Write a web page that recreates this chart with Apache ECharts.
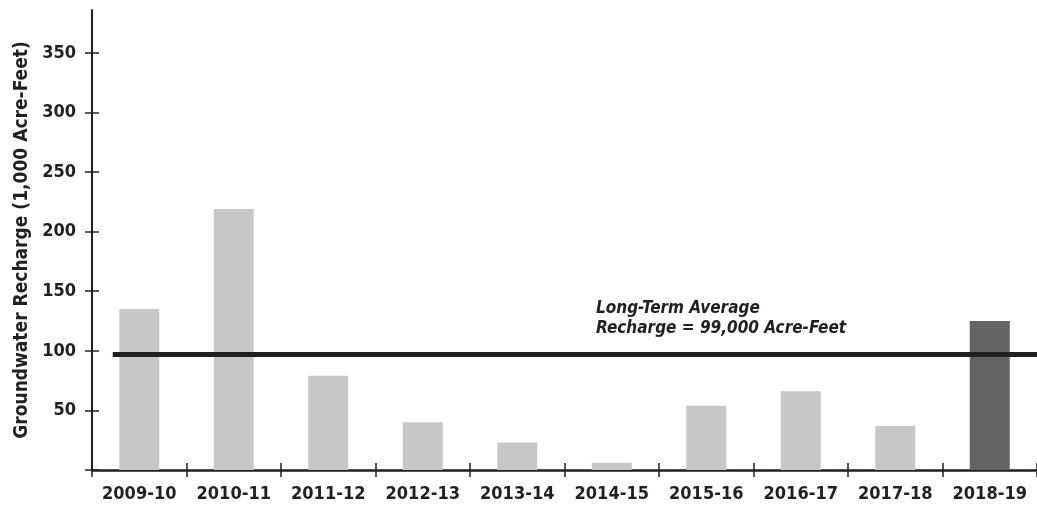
<!DOCTYPE html>
<html>
<head>
<meta charset="utf-8">
<script src="https://cdn.jsdelivr.net/npm/echarts@6/dist/echarts.min.js"></script>
<style>
  html, body { margin: 0; padding: 0; background: #fff; }
  #main { width: 1037px; height: 510px; }
</style>
</head>
<body>
<div id="main"></div>
<script>
  var years = ['2009-10', '2010-11', '2011-12', '2012-13', '2013-14', '2014-15', '2015-16', '2016-17', '2017-18', '2018-19'];
  var recharge = [135, 219, 79, 40, 23, 6, 54, 66, 37, 125];
  var currentYear = '2018-19';
  var averageLine = 97;
  var tickValues = [0, 50, 100, 150, 200, 250, 300, 350];
  var labelValues = [50, 100, 150, 200, 250, 300, 350];

  var font = "'DejaVu Sans Condensed', 'Liberation Sans Narrow', sans-serif";
  var ink = '#231f20';
  var clear = 'rgba(0,0,0,0)';

  var myChart = echarts.init(document.getElementById('main'));

  var bars = recharge.map(function (v, i) {
    return {
      value: v,
      itemStyle: { color: years[i] === currentYear ? '#636466' : '#c6c7c9' }
    };
  });

  myChart.setOption({
    animation: false,
    grid: { left: 92, top: 10, width: 952, height: 460 },
    xAxis: [{
      type: 'category',
      data: years,
      position: 'bottom',
      axisLine: { show: true, onZero: false, lineStyle: { color: ink, width: 2.5 } },
      axisTick: { show: true, interval: 0, length: 7, lineStyle: { color: ink, width: 1.5 } },
      axisLabel: { interval: 0, color: ink, fontFamily: font, fontWeight: 'bold', fontSize: 18, margin: 15 }
    }, {
      type: 'category',
      data: years,
      position: 'bottom',
      offset: -7,
      axisLine: { show: true, onZero: false, lineStyle: { color: clear } },
      axisTick: { show: true, interval: 0, length: 7, lineStyle: { color: ink, width: 1.5 } },
      axisLabel: { show: false }
    }, {
      type: 'value',
      min: -0.5,
      max: 9.5,
      show: false
    }],
    yAxis: [{
      type: 'value',
      min: 0,
      max: 386,
      position: 'left',
      name: 'Groundwater Recharge (1,000 Acre-Feet)',
      nameLocation: 'middle',
      nameGap: 56,
      nameTextStyle: { color: ink, fontFamily: font, fontWeight: 'bold', fontSize: 19 },
      axisLine: { show: true, onZero: false, lineStyle: { color: ink, width: 2 } },
      axisTick: { show: true, length: 7, customValues: tickValues, lineStyle: { color: ink, width: 1.5 } },
      axisLabel: { color: ink, fontFamily: font, fontWeight: 'bold', fontSize: 18, margin: 16, customValues: labelValues },
      splitLine: { show: false }
    }, {
      type: 'value',
      min: 0,
      max: 386,
      position: 'left',
      offset: -7,
      axisLine: { show: true, onZero: false, lineStyle: { color: clear } },
      axisTick: { show: true, length: 7, customValues: tickValues, lineStyle: { color: ink, width: 1.5 } },
      axisLabel: { show: false },
      splitLine: { show: false }
    }],
    series: [{
      type: 'bar',
      data: bars,
      barWidth: 40,
      barGap: 0
    }, {
      type: 'line',
      xAxisIndex: 2,
      symbol: 'none',
      silent: true,
      lineStyle: { color: ink, width: 5 },
      data: [[-0.28, averageLine], [9.5, averageLine]]
    }],
    graphic: [{
      type: 'text',
      left: 596,
      top: 299,
      style: {
        text: 'Long-Term Average\nRecharge = 99,000 Acre-Feet',
        fill: ink,
        font: "italic bold 17px 'DejaVu Sans Condensed', sans-serif",
        lineHeight: 20
      }
    }]
  });
</script>
</body>
</html>
